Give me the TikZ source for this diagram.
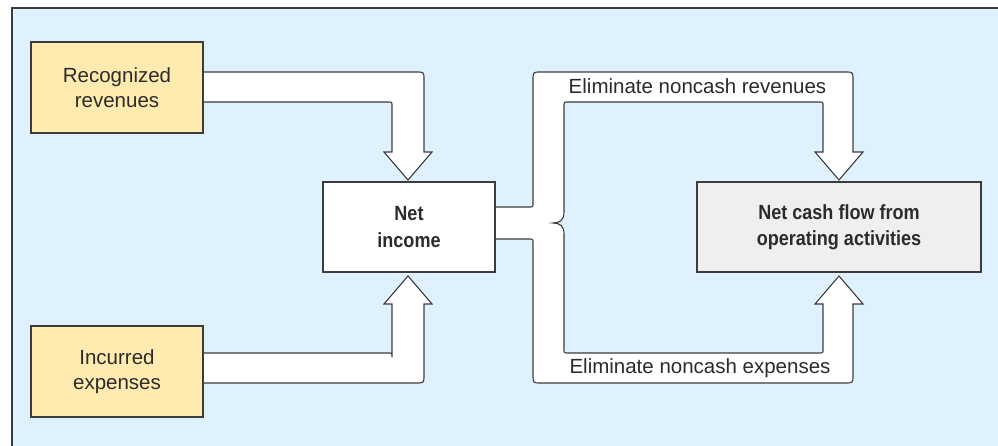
\documentclass[tikz,border=0pt]{standalone}
\usepackage{fontspec}
\setmainfont{Liberation Sans}
\newfontfamily\condbold[FakeStretch=0.88]{Liberation Sans Bold}
\usetikzlibrary{positioning}
\pgfdeclarelayer{back}
\pgfdeclarelayer{arrows}
\pgfsetlayers{back,arrows,main}
\definecolor{bgblue}{HTML}{DFF1FC}
\definecolor{boxyellow}{HTML}{FFEAB0}
\definecolor{boxgray}{HTML}{EFEFEF}
\definecolor{linegray}{HTML}{3C3C3C}
\definecolor{txt}{HTML}{2B2B2B}
\tikzset{
  srcbox/.style={draw=linegray, line width=1.3pt, fill=boxyellow, minimum width=172pt,
    minimum height=91pt, inner sep=0pt, align=center, text=txt,
    font=\fontsize{20.5}{24.5}\selectfont},
  midbox/.style={draw=linegray, line width=1.3pt, fill=white, minimum width=172pt,
    minimum height=90pt, inner sep=0pt, align=center, text=txt,
    font=\fontsize{20.5}{26.5}\condbold},
  resbox/.style={midbox, fill=boxgray, minimum width=284pt},
  lbl/.style={inner sep=0pt, text=txt, font=\fontsize{20.5}{24.5}\selectfont, anchor=base},
  arrowshape/.style={draw=linegray, line width=1.1pt, fill=white, line join=miter},
  framel/.style={draw=linegray, line width=1.5pt}
}
\begin{document}
\begin{tikzpicture}[x=1pt,y=-1pt]
\useasboundingbox (0,0) rectangle (998,446);
\begin{pgfonlayer}{back}
\fill[white] (0,0) rectangle (998,446);
\fill[bgblue] (12,8) rectangle (998,446);
\draw[framel] (12,446) -- (12,8) -- (998,8);
\end{pgfonlayer}

\node[srcbox] (rev) at (117,87.5) {Recognized\\revenues};
\node[srcbox] (exp) at (117,371.5) {Incurred\\expenses};
\node[midbox] (ni) at (409,227) {Net\\income};
\node[resbox] (cf) at (839,227) {Net cash flow from\\operating activities};

\begin{pgfonlayer}{arrows}
% recognized revenues -> net income
\draw[arrowshape] (203,72) -- (416,72) .. controls (424,72) .. (424,80) -- (424,152)
  -- (432,152) -- (408,180) -- (384,152) -- (392,152) -- (392,106)
  .. controls (392,102) .. (388,102) -- (203,102);
% incurred expenses -> net income
\draw[arrowshape] (203,383) -- (416,383) .. controls (424,383) .. (424,375) -- (424,304)
  -- (432,304) -- (408,276) -- (384,304) -- (392,304) -- (392,357)
  .. controls (392,353) .. (388,353) -- (203,353);
% net income -> net cash flow (both branches with brace)
\draw[arrowshape] (495,207) -- (529,207) .. controls (533,207) .. (533,203) -- (533,80)
  .. controls (533,72) .. (541,72) -- (845,72) .. controls (853,72) .. (853,80)
  -- (853,152) -- (863,152) -- (839,180) -- (815,152) -- (823,152) -- (823,106)
  .. controls (823,102) .. (819,102) -- (568,102) .. controls (564,102) .. (564,106)
  -- (564,212) .. controls (564,220) and (560,223) .. (553,223)
  .. controls (560,223) and (564,226) .. (564,234) -- (564,349)
  .. controls (564,353) .. (568,353) -- (819,353) .. controls (823,353) .. (823,349)
  -- (823,304) -- (815,304) -- (839,276) -- (863,304) -- (853,304) -- (853,375)
  .. controls (853,383) .. (845,383) -- (541,383) .. controls (533,383) .. (533,375)
  -- (533,243) .. controls (533,239) .. (529,239) -- (495,239);
\end{pgfonlayer}

\node[lbl] (lrev) at (697.5,94) {Eliminate noncash revenues};
\node[lbl] (lexp) at (700,373.5) {Eliminate noncash expenses};
\end{tikzpicture}
\end{document}
